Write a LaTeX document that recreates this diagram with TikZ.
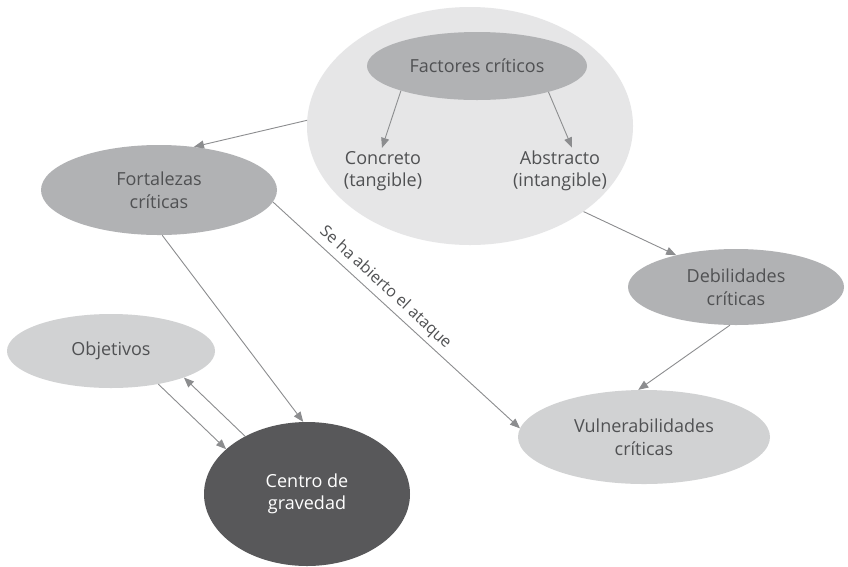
\documentclass[tikz,border=0pt]{standalone}
\usepackage{fontspec}
\setmainfont{Open Sans}
\usetikzlibrary{shapes.geometric,arrows.meta}
\definecolor{txt}{HTML}{505153}
\definecolor{shadeA}{HTML}{E6E6E7}
\definecolor{shadeB}{HTML}{B1B2B4}
\definecolor{shadeC}{HTML}{D1D2D3}
\definecolor{shadeD}{HTML}{58585A}
\definecolor{link}{HTML}{8C8D8F}
\tikzset{
  bubble/.style={ellipse, inner sep=0pt, text=txt, align=center,
    font=\fontsize{18}{22.5}\selectfont},
  plain/.style={inner sep=3pt, text=txt, align=center,
    font=\fontsize{18}{22.5}\selectfont},
  conn/.style={draw=link, line width=0.9pt,
    -{Triangle[length=10pt,width=8pt]}},
}
\begin{document}
\begin{tikzpicture}[x=1pt,y=-1pt]
\useasboundingbox[fill=white] (0,0) rectangle (848,566);

% outer group of critical factors
\node[bubble, fill=shadeA, minimum width=326, minimum height=238] (grp) at (470,126) {};
\node[bubble, fill=shadeB, minimum width=220, minimum height=68] (fac) at (477,66) {Factores críticos};
\node[plain] (conc) at (383,171) {Concreto\\(tangible)};
\node[plain] (abst) at (560,171) {Abstracto\\(intangible)};

% remaining concepts
\node[bubble, fill=shadeB, minimum width=236, minimum height=90] (fort) at (159,190) {Fortalezas\\críticas};
\node[bubble, fill=shadeC, minimum width=208, minimum height=74] (obj) at (111,351) {Objetivos};
\node[bubble, fill=shadeD, text=white, minimum width=206, minimum height=144] (cdg) at (307,494) {Centro de\\gravedad};
\node[bubble, fill=shadeB, minimum width=216, minimum height=76] (deb) at (736,287) {Debilidades\\críticas};
\node[bubble, fill=shadeC, minimum width=252, minimum height=94] (vul) at (644,437) {Vulnerabilidades\\críticas};

% connectors
\draw[conn] (fac.198.7) -- ([xshift=-1pt]conc.north);
\draw[conn] (fac.340.4) -- ([xshift=12pt]abst.north);
\draw[conn] (grp.178.6) -- (fort.51);
\draw[conn] (grp.323.4) -- (deb.152.3);
\draw[conn] (deb.261) -- (vul.97);
\draw[conn] (fort.354) -- node[pos=0.42, sloped, above=1pt, text=txt,
  font=\fontsize{16}{18}\selectfont] {Se ha abierto el ataque} (vul.176.4);
\draw[conn] (fort.274) -- (cdg.93);
\draw[conn] (obj.325) -- (cdg.151.6);
\draw[conn] (cdg.137.4) -- (obj.340.7);
\end{tikzpicture}
\end{document}
